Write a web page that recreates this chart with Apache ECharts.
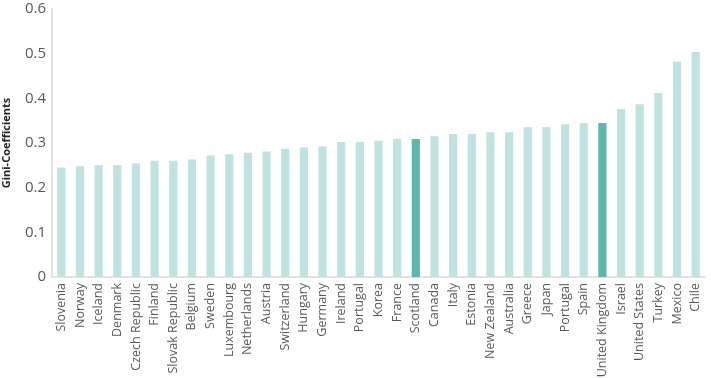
<!DOCTYPE html>
<html>
<head>
<meta charset="utf-8">
<script src="https://cdn.jsdelivr.net/npm/echarts@6/dist/echarts.min.js"></script>
<style>
  html, body { margin: 0; padding: 0; background: #fff; }
  #chart { width: 711px; height: 378px; }
</style>
</head>
<body>
<div id="chart"></div>
<script>
const countries = ['Slovenia', 'Norway', 'Iceland', 'Denmark', 'Czech Republic', 'Finland',
    'Slovak Republic', 'Belgium', 'Sweden', 'Luxembourg', 'Netherlands', 'Austria',
    'Switzerland', 'Hungary', 'Germany', 'Ireland', 'Portugal', 'Korea', 'France',
    'Scotland', 'Canada', 'Italy', 'Estonia', 'New Zealand', 'Australia', 'Greece',
    'Japan', 'Portugal', 'Spain', 'United Kingdom', 'Israel', 'United States', 'Turkey',
    'Mexico', 'Chile'];
const gini = [0.245, 0.248, 0.251, 0.251, 0.254, 0.260, 0.260, 0.263, 0.272, 0.275,
    0.278, 0.281, 0.287, 0.290, 0.293, 0.302, 0.302, 0.305, 0.309, 0.309, 0.315,
    0.320, 0.320, 0.324, 0.324, 0.336, 0.336, 0.342, 0.345, 0.345, 0.376, 0.387,
    0.412, 0.482, 0.504];
const highlighted = ['Scotland', 'United Kingdom'];
const yTicks = [0, 0.1, 0.2, 0.3, 0.4, 0.5, 0.6];

const chart = echarts.init(document.getElementById('chart'));

const option = {
    animation: false,
    grid: {
        left: 52,
        right: 6,
        top: 9,
        bottom: 101,
        outerBoundsMode: 'none'
    },
    xAxis: {
        type: 'category',
        // index suffix keeps the two "Portugal" entries apart
        data: countries.map((c, i) => ({ value: c + '#' + i })),
        axisLine: { lineStyle: { color: '#d9d9d9', width: 1.5 } },
        axisTick: { show: false },
        axisLabel: {
            rotate: 90,
            interval: 0,
            margin: 6,
            color: '#595959',
            fontFamily: 'Open Sans',
            fontSize: 12.5,
            formatter: v => v.split('#')[0]
        }
    },
    yAxis: {
        type: 'value',
        min: yTicks[0],
        max: yTicks[yTicks.length - 1],
        interval: 0.1,
        name: 'Gini-Coefficients',
        nameLocation: 'middle',
        nameGap: 40,
        nameMoveOverlap: false,
        nameTextStyle: {
            color: '#262626',
            fontFamily: 'Open Sans',
            fontWeight: 'bold',
            fontSize: 11
        },
        axisLine: { show: true, lineStyle: { color: '#d9d9d9', width: 1.5 } },
        axisTick: { show: false },
        splitLine: { show: false },
        axisLabel: {
            color: '#595959',
            fontFamily: 'Open Sans',
            fontSize: 15,
            margin: 6
        }
    },
    series: [{
        type: 'bar',
        barWidth: '44%',
        data: gini.map((v, i) => ({
            value: v,
            itemStyle: {
                color: highlighted.includes(countries[i]) ? '#5bb6ae' : '#bfe3e0'
            }
        }))
    }]
};

chart.setOption(option);
</script>
</body>
</html>
